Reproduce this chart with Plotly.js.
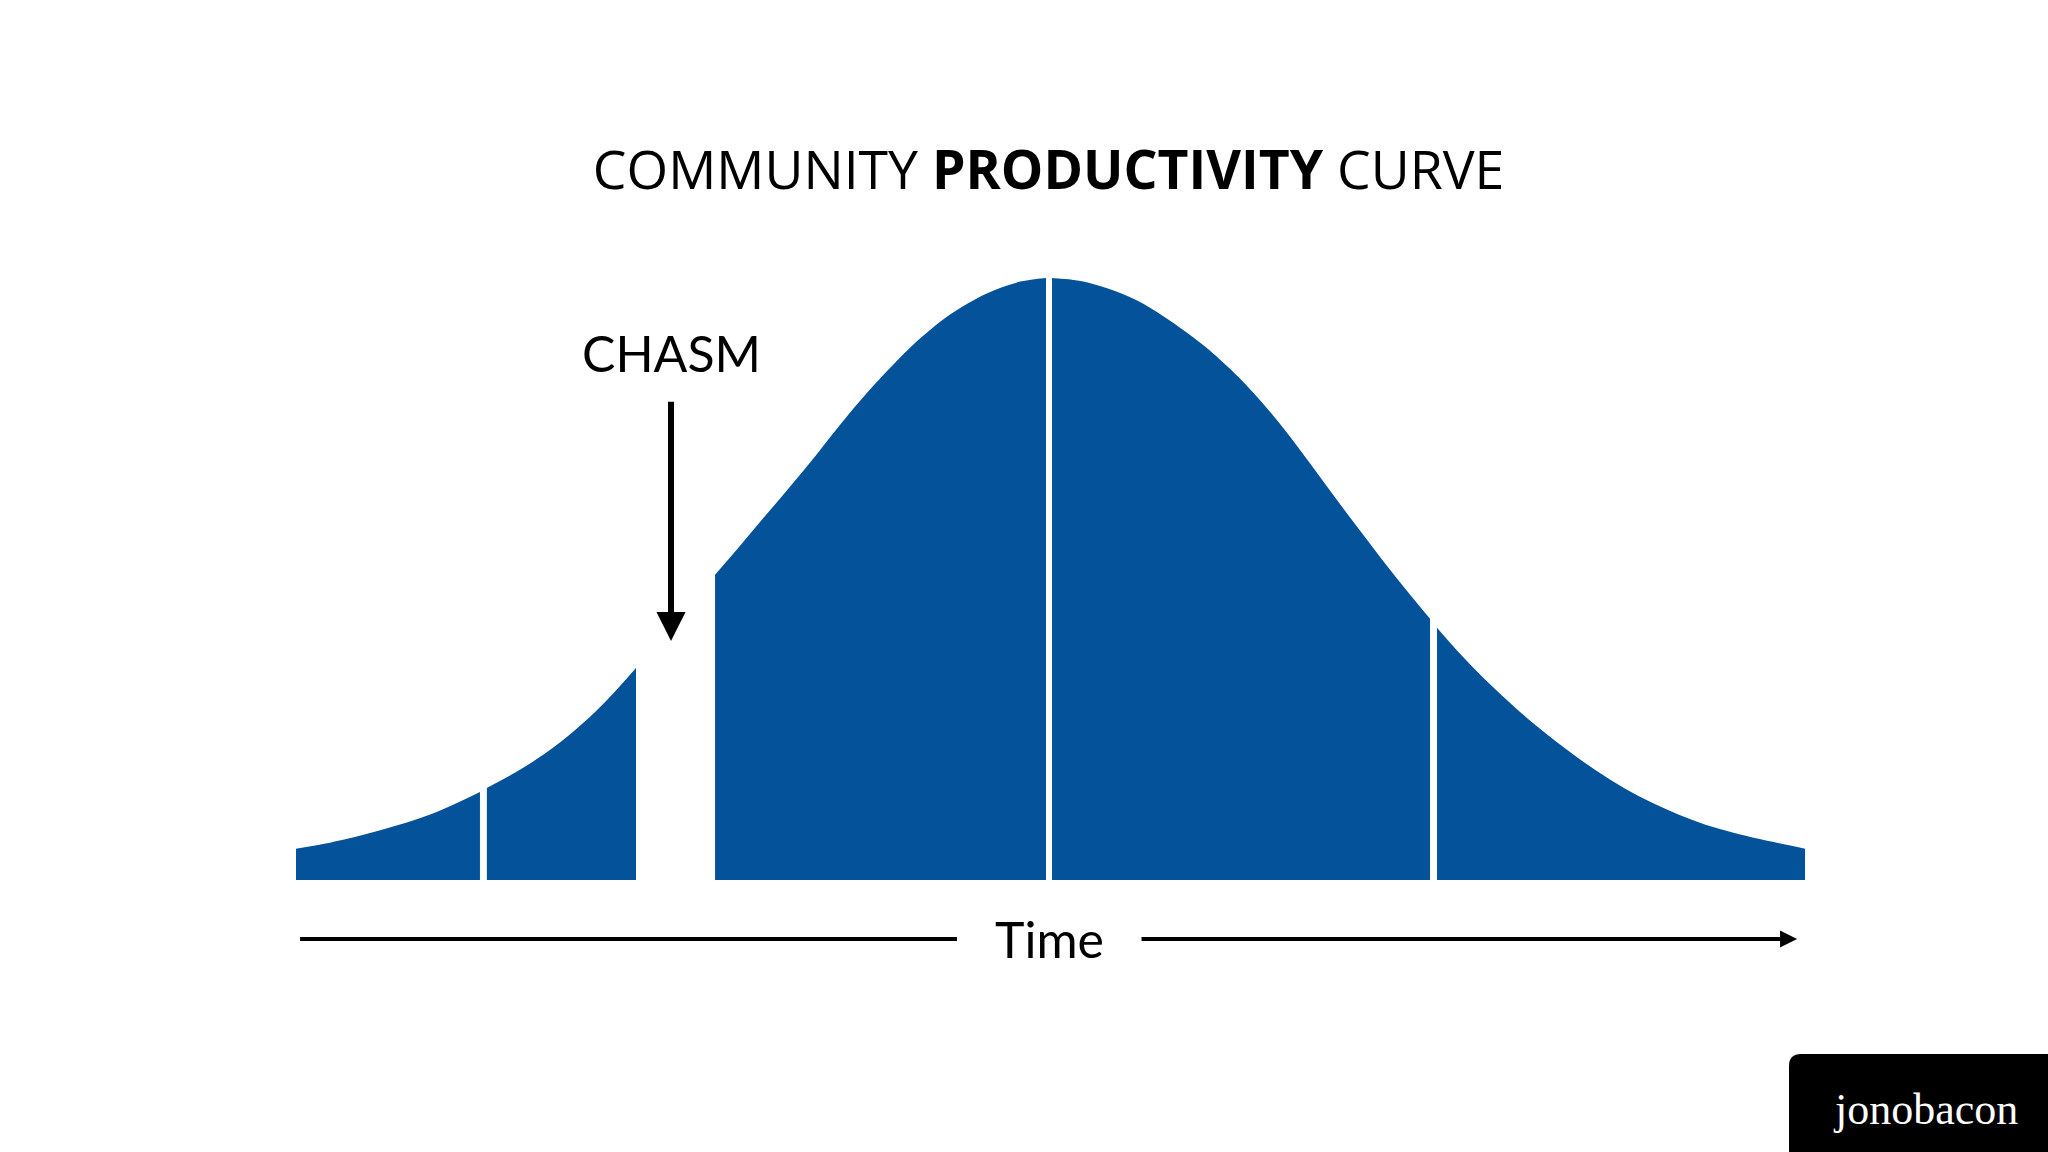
<!DOCTYPE html>
<html>
<head>
<meta charset="utf-8">
<script src="https://cdn.plot.ly/plotly-3.0.1.min.js"></script>
<style>html,body{margin:0;padding:0;background:#ffffff;}#chart{width:2048px;height:1152px;}</style>
</head>
<body>
<div id="chart"></div>
<script>
// ---- data: time (0-100) vs productivity (0-100, peak = 100) ----
const seg1Time = [0, 2.25, 5.64, 9.03, 12.19];
const seg1Prod = [5.2, 6.2, 8.3, 11.0, 14.6];

const seg2Time = [12.65, 14.5, 16.5, 18.5, 20.5, 22.53];
const seg2Prod = [15.3, 17.8, 21.0, 24.9, 29.6, 35.2];

const seg3Time = [27.77, 29.36, 31.0, 32.76, 34.5, 36.15, 37.8, 39.54, 41.2, 42.93, 44.6, 46.32, 48.0, 49.7];
const seg3Prod = [50.7, 55.3, 60.2, 65.4, 70.7, 75.9, 80.8, 85.5, 89.6, 93.2, 95.9, 98.0, 99.4, 100];

const seg4Time = [50.1, 52.0, 53.85, 55.7, 57.45, 59.0, 60.3, 61.6, 62.9, 64.6, 66.4, 68.2, 70.0, 71.8, 73.6, 75.15];
const seg4Prod = [100, 99.5, 98.2, 96.3, 93.7, 91.0, 88.5, 85.6, 82.4, 77.6, 71.9, 65.8, 59.7, 53.8, 48.1, 43.4];

const seg5Time = [75.61, 77.2, 79.0, 80.8, 82.6, 84.4, 86.2, 88.0, 89.8, 91.6, 93.4, 95.2, 97.0, 100];
const seg5Prod = [41.9, 37.4, 32.8, 28.6, 24.8, 21.3, 18.1, 15.3, 12.9, 10.9, 9.2, 7.9, 6.8, 5.2];

const segmentTimes = [seg1Time, seg2Time, seg3Time, seg4Time, seg5Time];
const segmentProds = [seg1Prod, seg2Prod, seg3Prod, seg4Prod, seg5Prod];

const titleText = 'COMMUNITY <b>PRODUCTIVITY</b> CURVE';
const chasmLabel = 'CHASM';
const chasmTime = 24.85;
const chasmLabelLevel = 87.5;
const chasmArrowTop = 79.7;
const chasmArrowTip = 39.7;
const timeLabel = 'Time';
const timeAxisLevel = -9.8;
const timeLineLeft = [0.27, 43.8];
const timeLineRight = [55.93, 99.47];
const brandText = 'jonobacon';

const BLUE = '#03529a';

const traces = segmentTimes.map((t, i) => ({
  type: 'scatter',
  mode: 'lines',
  x: t,
  y: segmentProds[i],
  line: {width: 0, shape: 'spline', smoothing: 1, color: BLUE},
  fill: 'tozeroy',
  fillcolor: BLUE,
  hoverinfo: 'skip',
  showlegend: false
}));

const layout = {
  width: 2048,
  height: 1152,
  margin: {l: 0, r: 0, t: 0, b: 0, pad: 0},
  paper_bgcolor: '#ffffff',
  plot_bgcolor: '#ffffff',
  showlegend: false,
  xaxis: {range: [-19.615, 116.10], visible: false, fixedrange: true},
  yaxis: {range: [-45.18, 146.18], visible: false, fixedrange: true},
  title: {
    text: titleText,
    x: 0.512, xref: 'paper', xanchor: 'center',
    y: 0.8524, yref: 'paper', yanchor: 'middle',
    font: {family: 'Open Sans, sans-serif', size: 53.5, color: '#000000'}
  },
  shapes: [
    {type: 'line', xref: 'x', yref: 'y',
     x0: timeLineLeft[0], x1: timeLineLeft[1], y0: timeAxisLevel, y1: timeAxisLevel,
     line: {color: '#000000', width: 4}},
    {type: 'path', xref: 'paper', yref: 'paper',
     path: 'M 0.87354 0 L 0.87354 0.07465 Q 0.87354 0.08507 0.8794 0.08507 L 1 0.08507 L 1 0 Z',
     fillcolor: '#000000', line: {width: 0}}
  ],
  annotations: [
    {x: chasmTime, y: chasmLabelLevel, xref: 'x', yref: 'y', text: chasmLabel,
     showarrow: false, yanchor: 'middle', xanchor: 'center',
     font: {family: 'Lato, sans-serif', size: 50, color: '#000000'}},
    {x: chasmTime, y: chasmArrowTip, ax: chasmTime, ay: chasmArrowTop,
     xref: 'x', yref: 'y', axref: 'x', ayref: 'y', text: '',
     showarrow: true, arrowhead: 2, arrowwidth: 6, arrowsize: 0.97, arrowcolor: '#000000'},
    {x: 49.9, y: timeAxisLevel, xref: 'x', yref: 'y', text: timeLabel,
     showarrow: false, xanchor: 'center', yanchor: 'middle',
     font: {family: 'Lato, sans-serif', size: 50, color: '#000000'}},
    {x: timeLineRight[1], y: timeAxisLevel, ax: timeLineRight[0], ay: timeAxisLevel,
     xref: 'x', yref: 'y', axref: 'x', ayref: 'y', text: '',
     showarrow: true, arrowhead: 2, arrowwidth: 4, arrowsize: 0.85, arrowcolor: '#000000'},
    {x: 0.9404, y: 0.0365, xref: 'paper', yref: 'paper',
     text: brandText,
     showarrow: false, xanchor: 'center', yanchor: 'middle',
     font: {family: 'Liberation Serif, serif', size: 44, color: '#ffffff'}}
  ]
};

Plotly.newPlot('chart', traces, layout, {displayModeBar: false, staticPlot: true});
</script>
</body>
</html>
